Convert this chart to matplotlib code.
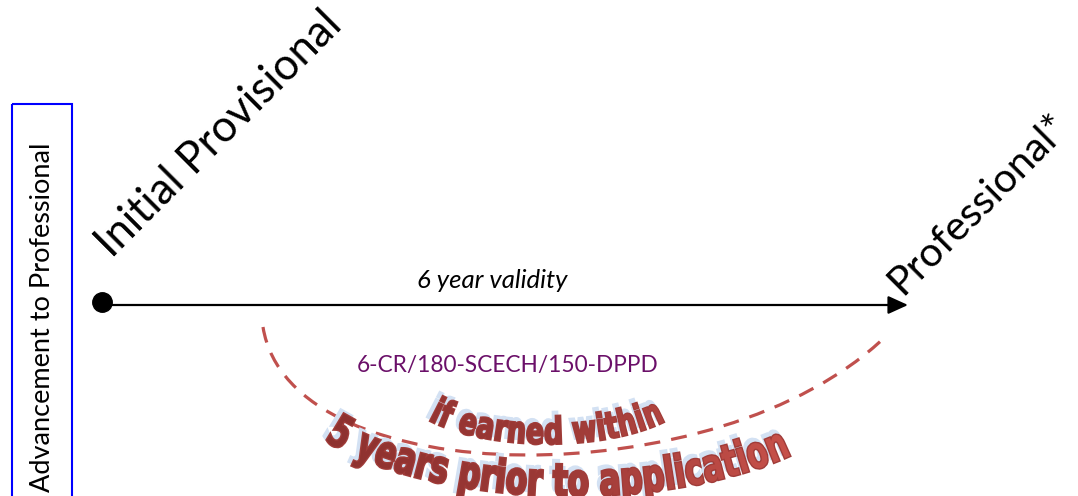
import numpy as np
import matplotlib
matplotlib.use('Agg')
import matplotlib.pyplot as plt
from matplotlib.patches import Rectangle, PathPatch
from matplotlib.path import Path
from matplotlib.textpath import TextPath
from matplotlib.font_manager import FontProperties
from matplotlib.colors import LinearSegmentedColormap

# labels of the diagram
stage_labels = ['Initial Provisional', 'Professional*']
stage_x = [102, 908]
box_label = 'Advancement to Professional'
arrow_label = '6 year validity'
req_label = '6-CR/180-SCECH/150-DPPD'
arc_labels = ['if earned within', '5 years prior to application']

fig = plt.figure(figsize=(10.78, 4.96), dpi=100)
ax = fig.add_axes([0, 0, 1, 1])
ax.set_xlim(0, 1078)
ax.set_ylim(496, 0)
ax.axis('off')

body = 'Lato'

# left box
ax.add_patch(Rectangle((12, 104), 60, 420, fill=False, edgecolor='#0000ff', lw=1.5))
ax.text(50, 492, box_label, rotation=90, rotation_mode='anchor', ha='left', va='baseline',
        fontsize=19.5, family=body, color='black')

# timeline
y_line = 305
ax.annotate('', xy=(stage_x[1], y_line), xytext=(stage_x[0], y_line),
            arrowprops=dict(arrowstyle='-|>,head_length=0.55,head_width=0.25', color='black',
                            lw=1.6, mutation_scale=22, shrinkA=0, shrinkB=0))
ax.plot(stage_x[0], 302, 'o', ms=14, color='black')
ax.text(492, 288, arrow_label, ha='center', va='baseline', fontsize=18.5, family=body,
        style='italic', color='black')

# stage names
ax.text(112, 259, stage_labels[0], rotation=45, rotation_mode='anchor', ha='left',
        va='baseline', fontsize=31.5, family=body)
ax.text(902, 296, stage_labels[1], rotation=45, rotation_mode='anchor', ha='left',
        va='baseline', fontsize=29.5, family=body)

ax.text(508, 372, req_label, ha='center', va='baseline', fontsize=16.3, family=body,
        color='#6b1069')

# dashed arc
verts = [(263, 327), (290, 496), (720, 496), (885, 337)]
codes = [Path.MOVETO, Path.CURVE4, Path.CURVE4, Path.CURVE4]
ax.add_patch(PathPatch(Path(verts, codes), fill=False, edgecolor='#c0504d', lw=2.3,
                       linestyle=(0, (5, 3.5))))


def arc_path(s, cx, cy, A, B, x0, x1, size):
    # baseline: lower half of an ellipse, text fitted between x0 and x1
    t = np.linspace(-1.45, 1.45, 4000)
    bx = cx + A * np.sin(t)
    by = cy + B * np.cos(t)
    sl = np.concatenate([[0], np.cumsum(np.hypot(np.diff(bx), np.diff(by)))])
    tx = np.gradient(bx, sl)
    ty = np.gradient(by, sl)
    nrm = np.hypot(tx, ty)
    tx, ty = tx / nrm, ty / nrm
    s0 = np.interp(x0, bx, sl)
    s1 = np.interp(x1, bx, sl)
    tp = TextPath((0, 0), s, size=size, prop=FontProperties(family='DejaVu Sans', weight='bold'))
    v = tp.vertices
    ext = tp.get_extents()
    sx = (s1 - s0) / (ext.x1 - ext.x0)
    S = s0 + (v[:, 0] - ext.x0) * sx
    px = np.interp(S, sl, bx)
    py = np.interp(S, sl, by)
    ux = np.interp(S, sl, tx)
    uy = np.interp(S, sl, ty)
    h = v[:, 1]
    return Path(np.column_stack([px + h * uy, py - h * ux]), tp.codes)


cmap = LinearSegmentedColormap.from_list('wa', ['#8c302e', '#9c3936', '#c9524b'])
grad = np.linspace(0, 1, 256).reshape(1, -1)

arcs = [(arc_labels[0], 548, 384, 150, 60, 430, 664, 37, 1.6),
        (arc_labels[1], 572, 368, 300, 128, 326, 790, 45, 2.0)]
for s, cx, cy, A, B, x0, x1, size, lw in arcs:
    p = arc_path(s, cx, cy, A, B, x0, x1, size)
    sh = Path(p.vertices + np.array([-3, -4]), p.codes)
    ax.add_patch(PathPatch(sh, facecolor='#d3e1f3', edgecolor='#d3e1f3', lw=lw))
    patch = PathPatch(p, facecolor='#a03c39', edgecolor='#a03c39', lw=lw)
    ax.add_patch(patch)
    im = ax.imshow(grad, extent=(300, 800, 500, 380), cmap=cmap, aspect='auto', zorder=3)
    im.set_clip_path(patch)

ax.set_xlim(0, 1078)
ax.set_ylim(496, 0)
fig.savefig('out.png', dpi=100)
